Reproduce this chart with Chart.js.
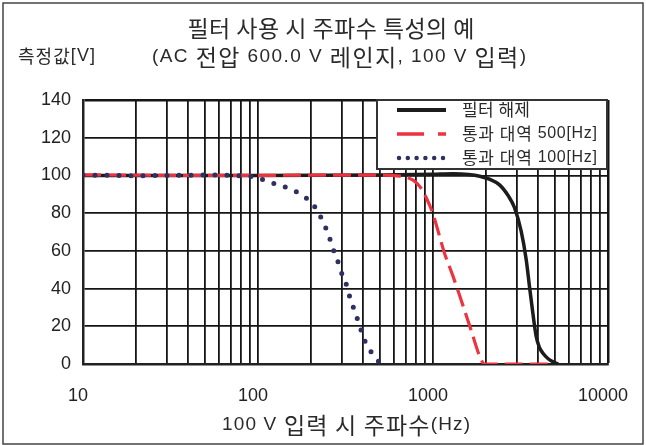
<!DOCTYPE html>
<html>
<head>
<meta charset="utf-8">
<script src="https://cdn.jsdelivr.net/npm/chart.js@4"></script>
<style>
  html, body { margin: 0; padding: 0; background: #fff; }
  #wrap { width: 646px; height: 445px; position: relative; }
</style>
</head>
<body>
<div id="wrap"><canvas id="chart" width="646" height="445"></canvas></div>
<script>
// 데이터
const seriesNames = ["필터 해제", "통과 대역 500[Hz]", "통과 대역 100[Hz]"];

const offFreq = [10, 100, 500, 1000, 1300, 1600, 1850, 2100, 2400, 2700, 2920, 3190, 3410, 3560, 3720, 3890, 4050, 4250, 4550, 4850, 5200];
const offVolt = [100, 100, 100.2, 100.6, 100.9, 100.5, 99.6, 98, 95, 89, 83, 70.5, 55.3, 41, 27, 14.5, 9, 5.7, 2.8, 1.2, 0];

const bp500Freq = [10, 50, 100, 200, 500, 650, 770, 850, 917, 1000, 1162, 1296, 1447, 1650, 1850, 1968, 2600, 4850];
const bp500Volt = [100.3, 100, 100, 100.2, 100.2, 99.6, 97.5, 93.5, 88, 79.5, 58.9, 47, 34, 18, 4, 0, 0, 0];

const bp100Freq = [10, 15, 20, 30, 50, 70, 83, 97, 113, 131, 152, 178, 203, 222, 238, 253, 265, 283, 298, 319, 334, 351, 370, 389, 408, 440, 484, 500];
const bp100Volt = [100.2, 100, 99.8, 100, 100.2, 100, 99.6, 99.1, 96.8, 95, 92.9, 89.7, 85.3, 80.2, 74.1, 68.8, 62.4, 55.7, 49.1, 42.4, 35.8, 29.9, 23.8, 17.7, 12.2, 6.8, 1.8, 0.6];

const xTickLabels = ["10", "100", "1000", "10000"];
const yTickLabels = [0, 20, 40, 60, 80, 100, 120, 140];

const titleLines = ["필터 사용 시 주파수 특성의 예", "(AC 전압 600.0 V 레인지, 100 V 입력)"];
const yUnit = "측정값[V]";
const xTitle = "100 V 입력 시 주파수(Hz)";

const LATIN = '"Liberation Sans", Arial, sans-serif';
const HANGUL = '"Noto Sans CJK KR", sans-serif';
const colors = ["#1c1c1c", "#ee3340", "#2d3060"];

function pts(xs, ys) { return xs.map((x, i) => ({ x: x, y: ys[i] })); }

// 그리드: 각 자릿수마다 1~9 배수
const gridTicks = [];
for (let e = 1; e < 4; e++) for (let m = 1; m < 10; m++) gridTicks.push(m * Math.pow(10, e));
gridTicks.push(10000);

// 한글/라틴 글꼴을 나눠서 한 글자씩 그리기 (목표 너비에 맞춰 자간 조정)
const isHangul = ch => /[\uAC00-\uD7A3]/.test(ch);
function setFont(ctx, ch, ls, ks) {
  ctx.font = isHangul(ch) ? ks + "px " + HANGUL : ls + "px " + LATIN;
}
function drawFit(ctx, text, x, y, ls, ks, align, target) {
  const chars = Array.from(text);
  const ws = chars.map(ch => { setFont(ctx, ch, ls, ks); return ctx.measureText(ch).width; });
  const natural = ws.reduce((a, b) => a + b, 0);
  let sp = (target - natural) / (chars.length - 1);
  sp = Math.max(-0.5, Math.min(2, sp));
  const total = natural + sp * (chars.length - 1);
  let cx = align === "center" ? x - total / 2 : x;
  ctx.textAlign = "left";
  chars.forEach((ch, i) => {
    setFont(ctx, ch, ls, ks);
    ctx.fillText(ch, cx, y);
    cx += ws[i] + sp;
  });
}

const decor = {
  id: "decor",
  afterDraw(chart) {
    const ctx = chart.ctx;
    ctx.save();
    ctx.strokeStyle = "#444";
    ctx.lineWidth = 1.5;
    ctx.strokeRect(3, 3, 640, 441);

    ctx.fillStyle = "#2a2a2a";
    ctx.textBaseline = "middle";
    drawFit(ctx, titleLines[0], 331, 28, 19, 23, "center", 287);
    drawFit(ctx, titleLines[1], 339, 57, 19, 23, "center", 374);
    drawFit(ctx, yUnit, 18, 56, 18, 18, "left", 77);
    drawFit(ctx, xTitle, 346, 425, 19, 23, "center", 248);

    // 범례
    const lx = 377, ly = 100, lw = 230, lh = 69;
    ctx.fillStyle = "#fff";
    ctx.fillRect(lx, ly, lw, lh);
    ctx.strokeStyle = "#333";
    ctx.lineWidth = 2;
    ctx.strokeRect(lx, ly, lw, lh);
    const rows = [110, 134, 158];
    const dashes = [[], [27, 14], [0, 8.8]];
    const widths = [4, 3.5, 4.5];
    rows.forEach((y, i) => {
      ctx.beginPath();
      ctx.setLineDash(dashes[i]);
      ctx.lineCap = i === 2 ? "round" : "butt";
      ctx.strokeStyle = colors[i];
      ctx.lineWidth = widths[i];
      ctx.moveTo(i === 2 ? 399 : 397, y);
      ctx.lineTo(446, y);
      ctx.stroke();
      ctx.setLineDash([]);
      ctx.fillStyle = "#2a2a2a";
      drawFit(ctx, seriesNames[i], 462, y, 16, 17, "left", i === 0 ? 68 : 135);
    });
    ctx.restore();
  }
};

new Chart(document.getElementById("chart"), {
  type: "line",
  data: {
    datasets: [
      { label: seriesNames[0], data: pts(offFreq, offVolt), borderColor: colors[0], borderWidth: 3.5, order: 2 },
      { label: seriesNames[1], data: pts(bp500Freq, bp500Volt), borderColor: colors[1], borderWidth: 3.2, borderDash: [18, 7], order: 1 },
      { label: seriesNames[2], data: pts(bp100Freq, bp100Volt), borderColor: colors[2], borderWidth: 5, borderDash: [0, 12], borderCapStyle: "round", order: 0 }
    ]
  },
  options: {
    responsive: false,
    animation: false,
    events: [],
    layout: { padding: { top: 100, right: 38, bottom: 0, left: 0 } },
    elements: {
      point: { radius: 0 },
      line: { cubicInterpolationMode: "monotone", fill: false }
    },
    plugins: { legend: { display: false }, title: { display: false }, tooltip: { enabled: false } },
    scales: {
      x: {
        type: "logarithmic",
        min: 10, max: 10000,
        afterFit: s => { s.height = 81; s.paddingLeft = 0; s.paddingRight = 0; },
        afterBuildTicks: s => { s.ticks = gridTicks.map(v => ({ value: v })); },
        grid: {
          color: "#151515",
          lineWidth: c => (c.tick && c.tick.value === 10000 ? 2.5 : 1.8),
          drawTicks: false
        },
        border: { color: "#222", width: 2.5 },
        ticks: {
          autoSkip: false, maxRotation: 0, padding: 21, labelOffset: -5,
          color: "#222", font: { family: LATIN, size: 18 },
          callback: v => (xTickLabels.includes(String(v)) ? String(v) : "")
        }
      },
      y: {
        min: 0, max: 140,
        afterFit: s => { s.width = 83; s.paddingTop = 0; s.paddingBottom = 0; },
        grid: {
          color: "#151515",
          lineWidth: c => (c.tick && c.tick.value === 140 ? 2.5 : 1.8),
          drawTicks: false
        },
        border: { color: "#222", width: 2.5 },
        ticks: {
          stepSize: 10, padding: 12, color: "#222", font: { family: LATIN, size: 18 },
          callback: v => (yTickLabels.includes(v) ? v : "")
        }
      }
    }
  },
  plugins: [decor]
});
</script>
</body>
</html>
